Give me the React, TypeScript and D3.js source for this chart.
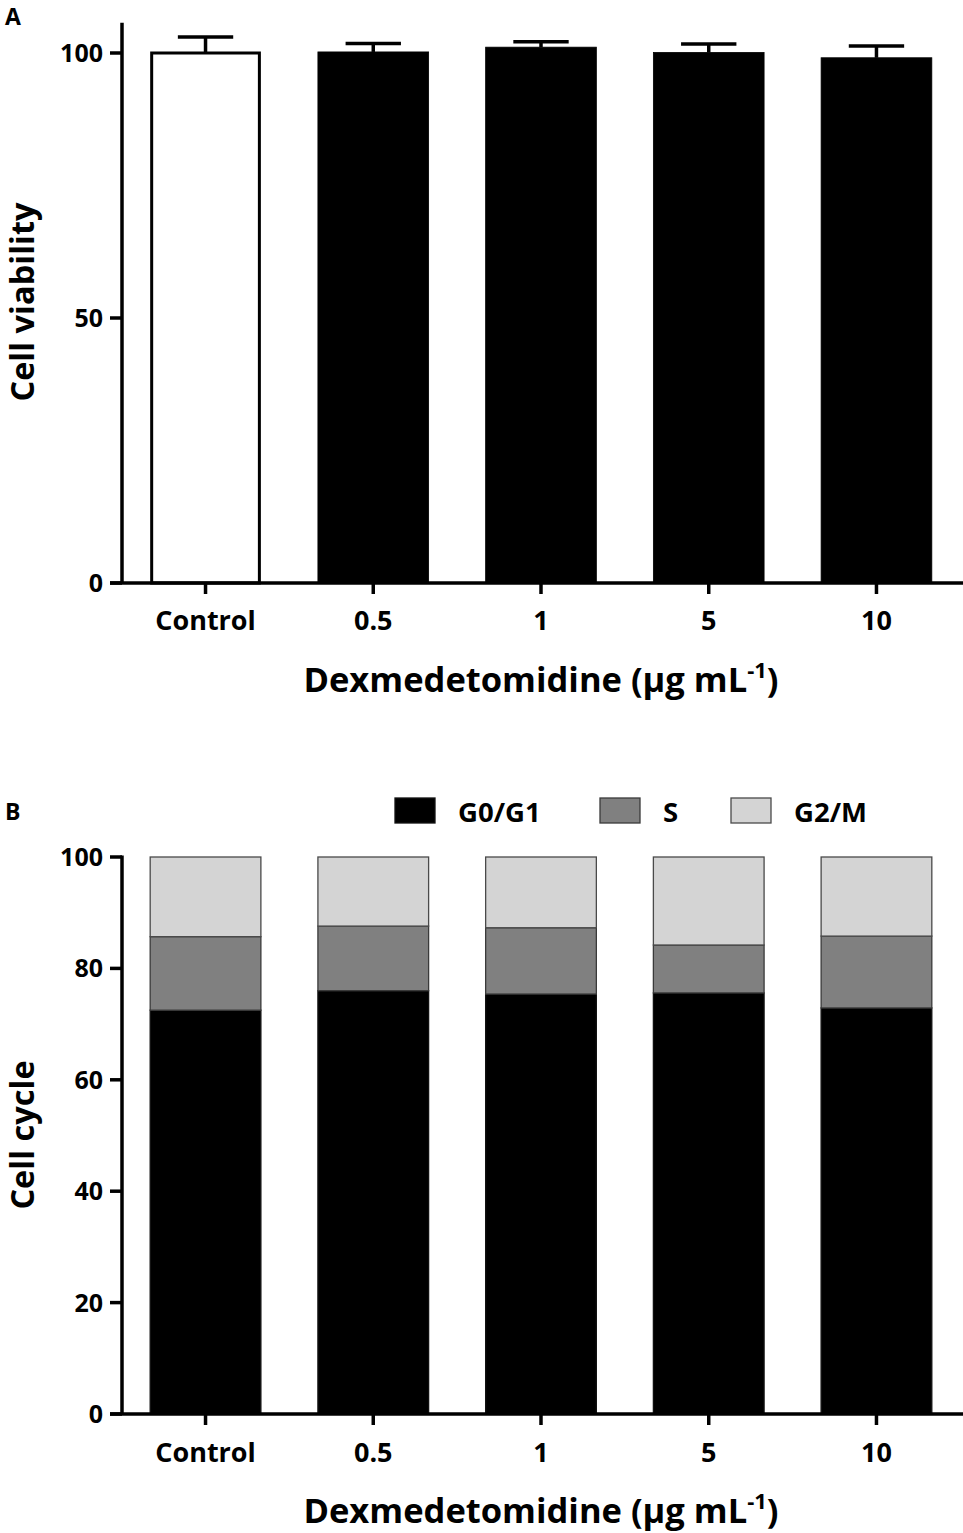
import React from "react";
import * as d3 from "d3";

const categories = ["Control", "0.5", "1", "5", "10"];
const viabilityMean = [100, 100.2, 101.1, 100.1, 99.1];
const viabilitySD = [3.0, 1.6, 1.0, 1.6, 2.2];
const viabilityTicks = [0, 50, 100];

const phaseKeys = ["G0/G1", "S", "G2/M"];
const g0g1 = [72.5, 76.0, 75.4, 75.6, 72.9];
const sPhase = [13.2, 11.6, 11.9, 8.6, 12.9];
const g2m = [14.3, 12.4, 12.7, 15.8, 14.2];
const cycleTicks = [0, 20, 40, 60, 80, 100];

const phaseColors: Record<string, string> = { "G0/G1": "#000000", S: "#808080", "G2/M": "#d4d4d4" };
const phaseStroke: Record<string, string> = { "G0/G1": "#111111", S: "#3a3a3a", "G2/M": "#4a4a4a" };

const FONT = "'Open Sans', sans-serif";

export default function App() {
  const x = d3.scaleBand<string>().domain(categories).range([122, 960]).paddingInner(0.34).paddingOuter(0.168);
  const bw = x.bandwidth();
  const cx = (c: string) => (x(c) as number) + bw / 2;

  const yA = d3.scaleLinear().domain([0, 100]).range([583, 53]);
  const yB = d3.scaleLinear().domain([0, 100]).range([1414, 857]);

  const table = categories.map((c, i) => ({ cat: c, "G0/G1": g0g1[i], S: sPhase[i], "G2/M": g2m[i] }));
  const stacked = d3.stack<any>().keys(phaseKeys)(table);

  const axisW = 3.5;
  const axisX0 = 110;
  const axisX1 = 963;
  const yAxisX = 122;

  const xTitle = (baseline: number) => (
    <text x={541} y={baseline} textAnchor="middle" fontSize={34.5} fontWeight={700} fontFamily={FONT}>
      Dexmedetomidine (μg mL
      <tspan fontSize={22} dy={-14}>-1</tspan>
      <tspan dy={14}>)</tspan>
    </text>
  );

  return (
    <svg width={963} height={1533} style={{ position: "absolute", left: 0, top: 0, background: "#fff" }}>
      {/* Panel A */}
      <text x={5} y={25} fontSize={23} fontWeight={700} fontFamily={FONT}>A</text>
      {categories.map((c, i) => {
        const top = yA(viabilityMean[i]);
        const errTop = yA(viabilityMean[i] + viabilitySD[i]);
        const isCtrl = i === 0;
        return (
          <g key={c}>
            <line x1={cx(c)} x2={cx(c)} y1={top} y2={errTop} stroke="#000" strokeWidth={3.5} />
            <line x1={cx(c) - bw / 4} x2={cx(c) + bw / 4} y1={errTop} y2={errTop} stroke="#000" strokeWidth={3.5} />
            <rect
              x={(x(c) as number) + (isCtrl ? 1.5 : 0)}
              y={top}
              width={bw - (isCtrl ? 3 : 0)}
              height={yA(0) - top}
              fill={isCtrl ? "#fff" : "#000"}
              stroke="#000"
              strokeWidth={isCtrl ? 3 : 0.8}
            />
          </g>
        );
      })}
      <line x1={yAxisX} x2={yAxisX} y1={yA(0)} y2={yA(105.7)} stroke="#000" strokeWidth={axisW} />
      <line x1={axisX0} x2={axisX1} y1={yA(0)} y2={yA(0)} stroke="#000" strokeWidth={axisW} />
      {viabilityTicks.map((t) => (
        <g key={t}>
          <line x1={110} x2={yAxisX} y1={yA(t)} y2={yA(t)} stroke="#000" strokeWidth={axisW} />
          <text x={103} y={yA(t)} dy="0.36em" textAnchor="end" fontSize={25} fontWeight={700} fontFamily={FONT}>
            {t}
          </text>
        </g>
      ))}
      {categories.map((c) => (
        <g key={c}>
          <line x1={cx(c)} x2={cx(c)} y1={yA(0)} y2={yA(0) + 11} stroke="#000" strokeWidth={axisW} />
          <text x={cx(c)} y={630} textAnchor="middle" fontSize={27} fontWeight={700} fontFamily={FONT}>
            {c}
          </text>
        </g>
      ))}
      {xTitle(692)}
      <text
        transform={`translate(34,302) rotate(-90)`}
        textAnchor="middle"
        fontSize={32.5}
        fontWeight={700}
        fontFamily={FONT}
      >
        Cell viability
      </text>

      {/* Panel B */}
      <text x={5} y={820} fontSize={23} fontWeight={700} fontFamily={FONT}>B</text>
      {stacked.map((layer) => (
        <g key={layer.key}>
          {layer.map((d: any, i: number) => (
            <rect
              key={i}
              x={x(categories[i]) as number}
              y={yB(d[1])}
              width={bw}
              height={yB(d[0]) - yB(d[1])}
              fill={phaseColors[layer.key]}
              stroke={phaseStroke[layer.key]}
              strokeWidth={1.3}
            />
          ))}
        </g>
      ))}
      <line x1={yAxisX} x2={yAxisX} y1={yB(0)} y2={yB(100) - 1.5} stroke="#000" strokeWidth={axisW} />
      <line x1={axisX0} x2={axisX1} y1={yB(0)} y2={yB(0)} stroke="#000" strokeWidth={axisW} />
      {cycleTicks.map((t) => (
        <g key={t}>
          <line x1={110} x2={yAxisX} y1={yB(t)} y2={yB(t)} stroke="#000" strokeWidth={axisW} />
          <text x={103} y={yB(t)} dy="0.36em" textAnchor="end" fontSize={25} fontWeight={700} fontFamily={FONT}>
            {t}
          </text>
        </g>
      ))}
      {categories.map((c) => (
        <g key={c}>
          <line x1={cx(c)} x2={cx(c)} y1={yB(0)} y2={yB(0) + 11} stroke="#000" strokeWidth={axisW} />
          <text x={cx(c)} y={1462} textAnchor="middle" fontSize={27} fontWeight={700} fontFamily={FONT}>
            {c}
          </text>
        </g>
      ))}
      {xTitle(1523)}
      <text
        transform={`translate(34,1135) rotate(-90)`}
        textAnchor="middle"
        fontSize={32.5}
        fontWeight={700}
        fontFamily={FONT}
      >
        Cell cycle
      </text>

      {/* Legend */}
      {phaseKeys.map((k, i) => {
        const lx = [395, 600, 731][i];
        return (
          <g key={k}>
            <rect x={lx} y={798} width={40} height={25} fill={phaseColors[k]} stroke={phaseStroke[k]} strokeWidth={1.3} />
            <text x={lx + 63} y={812} dy="0.36em" fontSize={27.5} fontWeight={700} fontFamily={FONT}>
              {k}
            </text>
          </g>
        );
      })}
    </svg>
  );
}
